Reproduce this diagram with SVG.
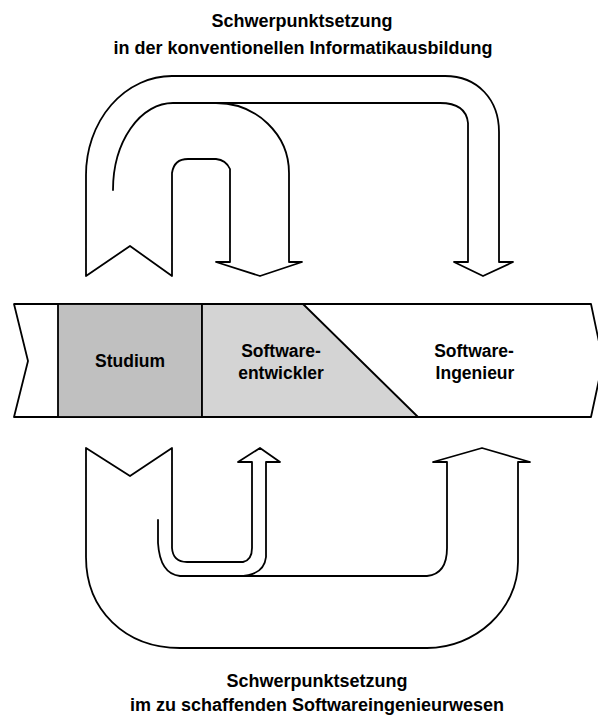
<svg xmlns="http://www.w3.org/2000/svg" width="598" height="718" viewBox="0 0 598 718">
<style>
.ln{fill:none;stroke:#000;stroke-width:1.8;stroke-linejoin:round;stroke-linecap:round}
.ar{fill:#fff;stroke:#000;stroke-width:1.8;stroke-linejoin:round}
.t{font-family:"Liberation Sans",Arial,sans-serif;font-weight:bold;fill:#000;text-anchor:middle}
.ti{font-size:18px}
.lb{font-size:17.5px}
</style>
<rect width="598" height="718" fill="#fff"/>
<g id="title-top">
<text class="t ti" x="302" y="27">Schwerpunktsetzung</text>
<text class="t ti" x="303" y="54">in der konventionellen Informatikausbildung</text>
</g>
<g id="band">
<path class="ar" d="M14 304 L591 304 L603 361 L591 417 L14 417 L28 361 Z"/>
<g id="studium">
<rect x="58" y="304" width="144" height="113" fill="#c0c0c0" stroke="#000" stroke-width="1.8"/>
<text class="t lb" x="130" y="367">Studium</text>
</g>
<g id="softwareentwickler">
<path d="M202 304 L303 304 L418 417 L202 417 Z" fill="#d4d4d4" stroke="#000" stroke-width="1.8" stroke-linejoin="round"/>
<text class="t lb" x="281" y="357">Software-</text>
<text class="t lb" x="281" y="379">entwickler</text>
</g>
<g id="softwareingenieur">
<text class="t lb" x="474" y="357">Software-</text>
<text class="t lb" x="475" y="379">Ingenieur</text>
</g>
</g>
<g id="connectors">
<g id="arrows-top">
<path class="ar" d="M86 276 L130 246 L172 276 L172 173 Q174 159 188 159 L216 159 Q226 160 230 169 L230 262 L216 262 L260 276 L302 262 L289 262 L289 173 A73 70 0 0 0 216 103 L440 103 Q466 103 468 123 L468 262 L454 262 L483 276 L513 262 L499 262 L499 132 C499 100 478 76 445 76 L172 76 A86 99 0 0 0 86 175 Z"/>
<path class="ln" d="M113 190 A60 87 0 0 1 173 103 L216 103"/>
</g>
<g id="arrows-bottom">
<path class="ar" d="M86 448 L130 476 L172 448 L172 548 Q173 562 187 562 L243 562 Q252 560 252 548 L252 462 L238 462 L260 448 L280 462 L266 462 L266 557 Q264 576 238 576 L427 576 Q447 574 447 548 L447 462 L433 462 L482 448 L530 462 L518 462 L518 562 C518 610 475 648 427 648 L180 648 C125 648 86 610 86 557 Z"/>
<path class="ln" d="M158 520 L158 543 Q160 574 180 576 L238 576"/>
</g>
</g>
<g id="title-bottom">
<text class="t ti" x="317" y="687">Schwerpunktsetzung</text>
<text class="t ti" x="317" y="711">im zu schaffenden Softwareingenieurwesen</text>
</g>
</svg>
